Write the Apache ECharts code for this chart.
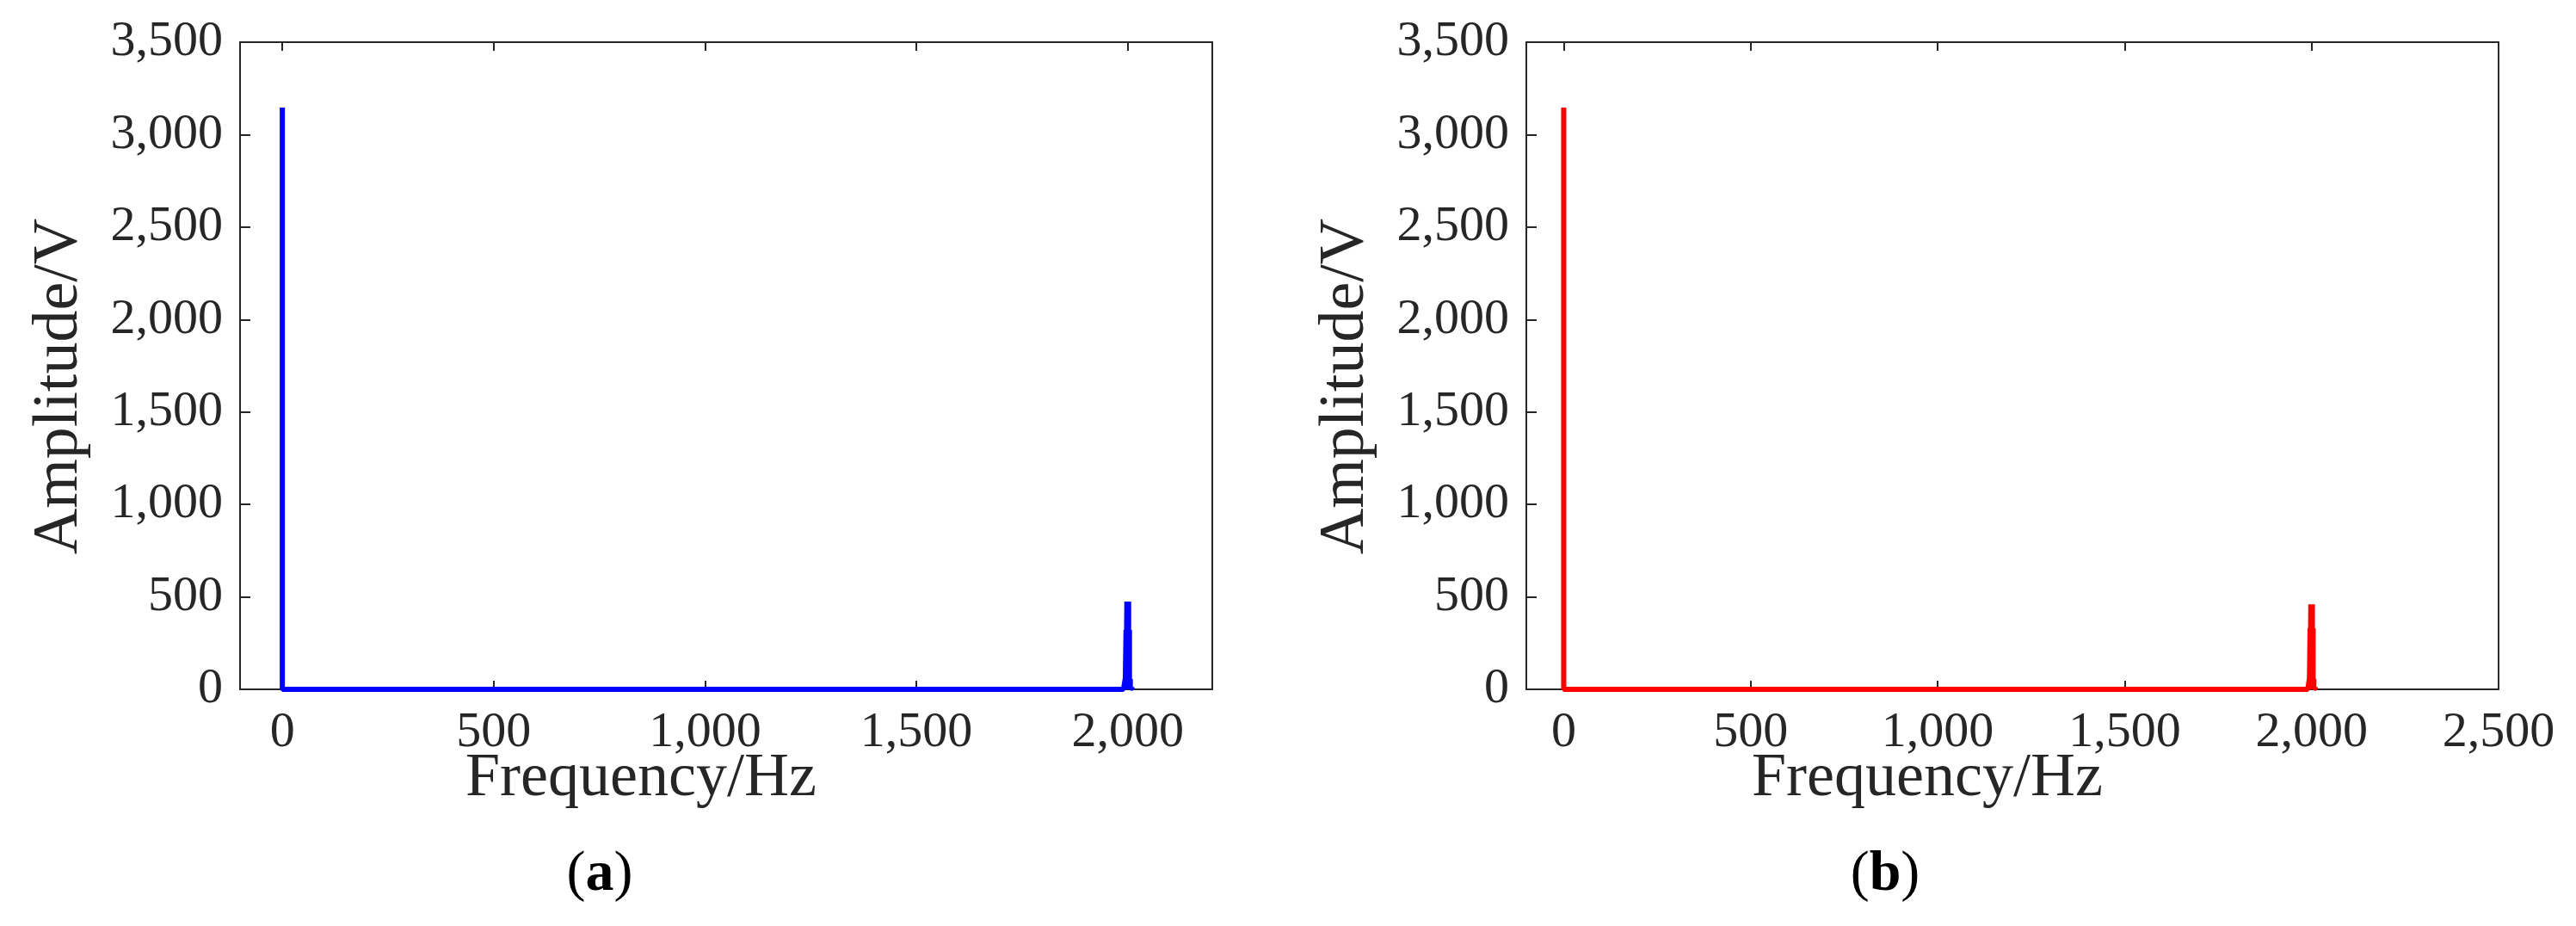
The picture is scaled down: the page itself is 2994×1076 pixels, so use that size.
<!DOCTYPE html>
<html><head><meta charset="utf-8">
<script src="https://cdn.jsdelivr.net/npm/echarts@6/dist/echarts.min.js"></script>
<style>html,body{margin:0;padding:0;background:#fff}#c{width:2994px;height:1076px}</style>
</head><body><div id="c"></div>
<script>
// spectrum (a): frequency (Hz) and amplitude (V)
const freqA = [0, 1990, 1994, 1996, 1998, 2000, 2002, 2004, 2006, 2010];
const ampA  = [3146, 10, 56, 321, 475, 475, 475, 321, 56, 10];
// spectrum (b)
const freqB = [0, 1990, 1994, 1996, 1998, 2000, 2002, 2004, 2006, 2010];
const ampB  = [3146, 10, 56, 330, 460, 460, 460, 330, 56, 10];
const yTicks = [0, 500, 1000, 1500, 2000, 2500, 3000, 3500];
const xTicksA = [0, 500, 1000, 1500, 2000];
const xTicksB = [0, 500, 1000, 1500, 2000, 2500];

function spikes(f, a) {
  const d = [];
  for (let i = 0; i < f.length; i++) { d.push([f[i], 0], [f[i], a[i]], [f[i], 0]); }
  return d;
}
const font = '"Liberation Serif","DejaVu Serif",serif';
const axisLine = {show: true, onZero: false, lineStyle: {color: '#262626', width: 2}};
function xAx(idx, max, ticks, top) {
  return {gridIndex: idx, type: 'value', position: top ? 'top' : 'bottom', min: -100, max: max,
    axisLine: axisLine,
    axisTick: {inside: true, length: 10, customValues: ticks, lineStyle: {color: '#262626', width: 2}},
    axisLabel: top ? {show: false} : {fontFamily: font, fontSize: 58, color: '#262626', margin: 22, customValues: ticks},
    splitLine: {show: false}};
}
function yAx(idx, right) {
  return {gridIndex: idx, type: 'value', position: right ? 'right' : 'left', min: 0, max: 3500, interval: 500,
    axisLine: axisLine,
    axisTick: right ? {show: false} : {inside: true, length: 12, lineStyle: {color: '#262626', width: 2}},
    axisLabel: right ? {show: false} : {fontFamily: font, fontSize: 58, color: '#262626', margin: 20},
    splitLine: {show: false}};
}
const txt = (x, y, t, size, rot) => ({type: 'text', x: x, y: y, rotation: rot || 0,
  style: {text: t, font: size + 'px ' + font, fill: '#262626', align: 'center', verticalAlign: 'middle'}});
const chart = echarts.init(document.getElementById('c'));
chart.setOption({
  animation: false,
  grid: [{left: 279, top: 49, width: 1130, height: 752},
         {left: 1774, top: 49, width: 1130, height: 752}],
  xAxis: [xAx(0, 2200, xTicksA), xAx(1, 2500, xTicksB), xAx(0, 2200, xTicksA, true), xAx(1, 2500, xTicksB, true)],
  yAxis: [yAx(0), yAx(1), yAx(0, true), yAx(1, true)],
  series: [
    {type: 'line', xAxisIndex: 0, yAxisIndex: 0, data: spikes(freqA, ampA), showSymbol: false,
      lineStyle: {color: '#0000ff', width: 6}},
    {type: 'line', xAxisIndex: 1, yAxisIndex: 1, data: spikes(freqB, ampB), showSymbol: false,
      lineStyle: {color: '#ff0000', width: 6}}
  ],
  graphic: [
    txt(745, 905, 'Frequency/Hz', 72),
    txt(2240, 905, 'Frequency/Hz', 72),
    txt(70, 449, 'Amplitude/V', 74, Math.PI / 2),
    txt(1565, 449, 'Amplitude/V', 74, Math.PI / 2),
    {type: 'text', x: 697, y: 1017, style: {rich: {p: {font: '66px ' + font, fill: '#000'}, b: {font: 'bold 66px ' + font, fill: '#000'}},
      text: '{p|(}{b|a}{p|)}', align: 'center', verticalAlign: 'middle'}},
    {type: 'text', x: 2191, y: 1017, style: {rich: {p: {font: '66px ' + font, fill: '#000'}, b: {font: 'bold 66px ' + font, fill: '#000'}},
      text: '{p|(}{b|b}{p|)}', align: 'center', verticalAlign: 'middle'}}
  ]
});
</script></body></html>
